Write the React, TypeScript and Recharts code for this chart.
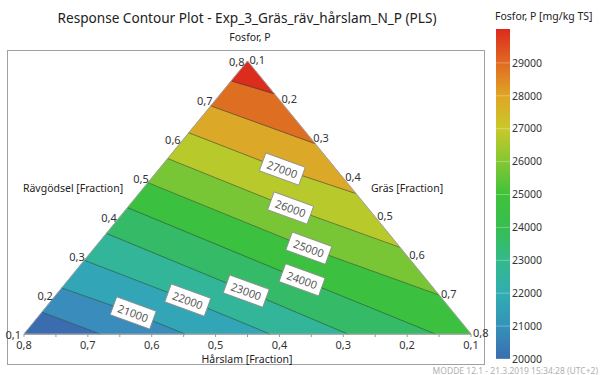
import React from "react";
import {
  ScatterChart,
  Scatter,
  XAxis,
  YAxis,
  BarChart,
  Bar,
  ReferenceLine,
} from "recharts";

// contour levels, Fosfor P [mg/kg TS]
const levels = [20000, 21000, 22000, 23000, 24000, 25000, 26000, 27000, 28000, 29000];

// contour lines as [Rävgödsel, Gräs] fractions (Hårslam = 1 - both),
// running from the Rävgödsel edge to the Hårslam or Gräs edge
const c20000 = [[0.156, 0.1], [0.1, 0.219]];
const c21000 = [[0.218, 0.1], [0.154, 0.244], [0.1, 0.352]];
const c22000 = [[0.289, 0.1], [0.187, 0.313], [0.1, 0.485]];
const c23000 = [[0.358, 0.1], [0.21, 0.393], [0.1, 0.607]];
const c24000 = [[0.424, 0.1], [0.239, 0.466], [0.1, 0.744]];
const c25000 = [[0.488, 0.1], [0.32, 0.436], [0.2, 0.7]];
const c26000 = [[0.55, 0.1], [0.423, 0.356], [0.322, 0.578]];
const c27000 = [[0.616, 0.1], [0.523, 0.293], [0.46, 0.44]];
const c28000 = [[0.685, 0.1], [0.588, 0.312]];
const c29000 = [[0.749, 0.1], [0.716, 0.184]];
const contours = [c20000, c21000, c22000, c23000, c24000, c25000, c26000, c27000, c28000, c29000];

// fill of each band, lowest first
const bandColors = [
  "#3b6cb0", "#3a8cbc", "#32a6b6", "#33b59a", "#35bb68", "#3cc040",
  "#78c636", "#b8c92c", "#dca828", "#de6e22", "#dc2c1e",
];

// contour labels
const labelLevels = [21000, 22000, 23000, 24000, 25000, 26000, 27000];
const labelRav = [0.154, 0.187, 0.21, 0.239, 0.32, 0.423, 0.523];
const labelGras = [0.244, 0.313, 0.393, 0.466, 0.436, 0.356, 0.293];

// axis fractions
const fractions = [0.1, 0.2, 0.3, 0.4, 0.5, 0.6, 0.7, 0.8];
const harslamTicks = [0.8, 0.75, 0.7, 0.65, 0.6, 0.55, 0.5, 0.45, 0.4, 0.35, 0.3, 0.25, 0.2, 0.15, 0.1];

// colour bar (top to bottom)
const cbMin = 20000;
const cbMax = 30030;
const cbTicks = [20000, 21000, 22000, 23000, 24000, 25000, 26000, 27000, 28000, 29000];
const cbStopValues = [30030, 29000, 28000, 27000, 26000, 25000, 24000, 23000, 22000, 21000, 20000];
const cbStopColors = [
  "#dc2a1e", "#e06a22", "#e0a524", "#c8c92a", "#84c733", "#40c23a",
  "#36be50", "#33b98a", "#30aeb0", "#3592b9", "#3b6db0",
];

const BL = [0.1, 0.1];
const APEX = [0.8, 0.1];
const BR = [0.1, 0.8];

const toUV = ([r, g]: number[]) => ({
  u: (g - 0.1) / 0.7 + (r - 0.1) / 1.4,
  v: (r - 0.1) / 0.7,
});
const onBottom = (p: number[]) => Math.abs(p[0] - 0.1) < 1e-6;
const fmt = (x: number) => x.toFixed(1).replace(".", ",");

const bands = bandColors.map((_, i) => {
  const lower = i === 0 ? [BL] : contours[i - 1];
  const upper = i === contours.length ? [APEX] : contours[i];
  const pts = [...lower];
  if (onBottom(lower[lower.length - 1]) && !onBottom(upper[upper.length - 1])) pts.push(BR);
  pts.push(...[...upper].reverse());
  return pts.map(toUV);
});

const contourData = contours.map((c) => c.map(toUV));
const edgeData = [BL, APEX, BR, BL].map(toUV);
const leftTicks = fractions.map((f) => ({ ...toUV([f, 0.1]), label: fmt(f) }));
const rightTicks = fractions.map((f) => ({ ...toUV([0.9 - f, f]), label: fmt(f) }));
const labelData = labelLevels.map((l, i) => ({ ...toUV([labelRav[i], labelGras[i]]), level: l }));
const bottomTicks = harslamTicks.map((h) => (0.8 - h) / 0.7);
const colorbarData = [{ k: "cb", v: [cbMin, cbMax] }];

const fmtBottom = (u: number) => {
  const h = 0.8 - 0.7 * u;
  return Math.abs(h * 10 - Math.round(h * 10)) < 0.01 ? fmt(h) : "";
};

const none = () => <g />;

const polygonLine = (color: string) => (p: any) => (
  <polygon
    points={p.points.map((q: any) => `${q.x},${q.y}`).join(" ")}
    fill={color}
    stroke={color}
    strokeWidth={0.6}
    strokeLinejoin="round"
  />
);

const LeftTickLabel = (p: any) => (
  <text x={p.cx - 3} y={p.cy} textAnchor="end" dominantBaseline="central" fontSize={11} fill="#333">
    {p.payload?.label ?? p.label}
  </text>
);

const RightTickLabel = (p: any) => (
  <text x={p.cx + 2} y={p.cy - 1.5} textAnchor="start" dominantBaseline="central" fontSize={11} fill="#333">
    {p.payload?.label ?? p.label}
  </text>
);

const ContourLabel = (p: any) => (
  <g transform={`translate(${p.cx},${p.cy}) rotate(20)`}>
    <rect x={-21} y={-9.5} width={42} height={19} fill="#fff" stroke="#8a8a8a" strokeWidth={0.8} />
    <text textAnchor="middle" dominantBaseline="central" fontSize={11} fill="#555">
      {p.payload?.level ?? p.level}
    </text>
  </g>
);

const txt = (x: number, y: number, size: number, color = "#222"): React.CSSProperties => ({
  position: "absolute",
  left: x,
  top: y,
  transform: "translate(-50%, -50%)",
  fontSize: size,
  color,
  whiteSpace: "nowrap",
  lineHeight: 1,
});

export default function App() {
  return (
    <div
      style={{
        position: "absolute",
        left: 0,
        top: 0,
        width: 600,
        height: 375,
        background: "#fff",
        fontFamily: "'Noto Sans', 'Open Sans', sans-serif",
      }}
    >
      {/* plot frame */}
      <div
        style={{
          position: "absolute",
          left: 7,
          top: 50,
          width: 478,
          height: 315,
          border: "1px solid #a0a0a0",
          boxSizing: "border-box",
        }}
      />

      <div style={{ position: "absolute", left: 0, top: 0 }}>
        <ScatterChart width={600} height={375} margin={{ top: 61, right: 129, bottom: 11, left: 24 }}>
          <XAxis
            type="number"
            dataKey="u"
            domain={[0, 1]}
            ticks={bottomTicks}
            interval={0}
            tickFormatter={fmtBottom}
            tickSize={3}
            tickMargin={4}
            stroke="#9a9a9a"
            tick={{ fill: "#333", fontSize: 11 }}
            height={30}
          />
          <YAxis type="number" dataKey="v" domain={[0, 1]} hide />
          {bands.map((pts, i) => (
            <Scatter
              key={"band" + i}
              data={pts}
              shape={none}
              line={polygonLine(bandColors[i])}
              lineType="joint"
              isAnimationActive={false}
            />
          ))}
          {contourData.map((pts, i) => (
            <Scatter
              key={"c" + levels[i]}
              data={pts}
              shape={none}
              line={{ stroke: "#1f3b2c", strokeWidth: 0.9, strokeOpacity: 0.6 }}
              lineType="joint"
              isAnimationActive={false}
            />
          ))}
          <Scatter
            data={edgeData}
            shape={none}
            line={{ stroke: "#a0a0a0", strokeWidth: 1 }}
            lineType="joint"
            isAnimationActive={false}
          />
          <Scatter data={leftTicks} shape={LeftTickLabel} isAnimationActive={false} />
          <Scatter data={rightTicks} shape={RightTickLabel} isAnimationActive={false} />
          <Scatter data={labelData} shape={ContourLabel} isAnimationActive={false} />
        </ScatterChart>
      </div>

      <div style={{ position: "absolute", left: 0, top: 0 }}>
        <BarChart
          width={600}
          height={375}
          data={colorbarData}
          margin={{ top: 29, right: 30, bottom: 16, left: 496 }}
          barCategoryGap={0}
        >
          <defs>
            <linearGradient id="cbGrad" x1="0" y1="0" x2="0" y2="1">
              {cbStopValues.map((val, i) => (
                <stop key={val} offset={(cbMax - val) / (cbMax - cbMin)} stopColor={cbStopColors[i]} />
              ))}
            </linearGradient>
          </defs>
          <XAxis dataKey="k" hide />
          <YAxis
            orientation="right"
            type="number"
            domain={[cbMin, cbMax]}
            ticks={cbTicks}
            interval={0}
            tickLine={false}
            axisLine={false}
            tickSize={0}
            tickMargin={2}
            width={60}
            tick={{ fill: "#333", fontSize: 10.5 }}
          />
          <Bar dataKey="v" fill="url(#cbGrad)" isAnimationActive={false} />
          {cbTicks.map((t) => (
            <ReferenceLine key={t} y={t} stroke="#fff" strokeOpacity={0.3} />
          ))}
        </BarChart>
      </div>

      <div style={txt(247, 18, 13.6)}>Response Contour Plot - Exp_3_Gräs_räv_hårslam_N_P (PLS)</div>
      <div style={txt(250, 37, 10.5)}>Fosfor, P</div>
      <div style={{ ...txt(495, 16, 10.5), transform: "translate(0, -50%)" }}>Fosfor, P [mg/kg TS]</div>
      <div style={txt(73, 188, 10.5)}>Rävgödsel [Fraction]</div>
      <div style={txt(407, 188, 10.5)}>Gräs [Fraction]</div>
      <div style={txt(247, 359, 10.5)}>Hårslam [Fraction]</div>
      <div style={{ ...txt(598, 371, 8.5, "#b0b0b0"), transform: "translate(-100%, -50%)" }}>
        MODDE 12.1 - 21.3.2019 15:34:28 (UTC+2)
      </div>
    </div>
  );
}
